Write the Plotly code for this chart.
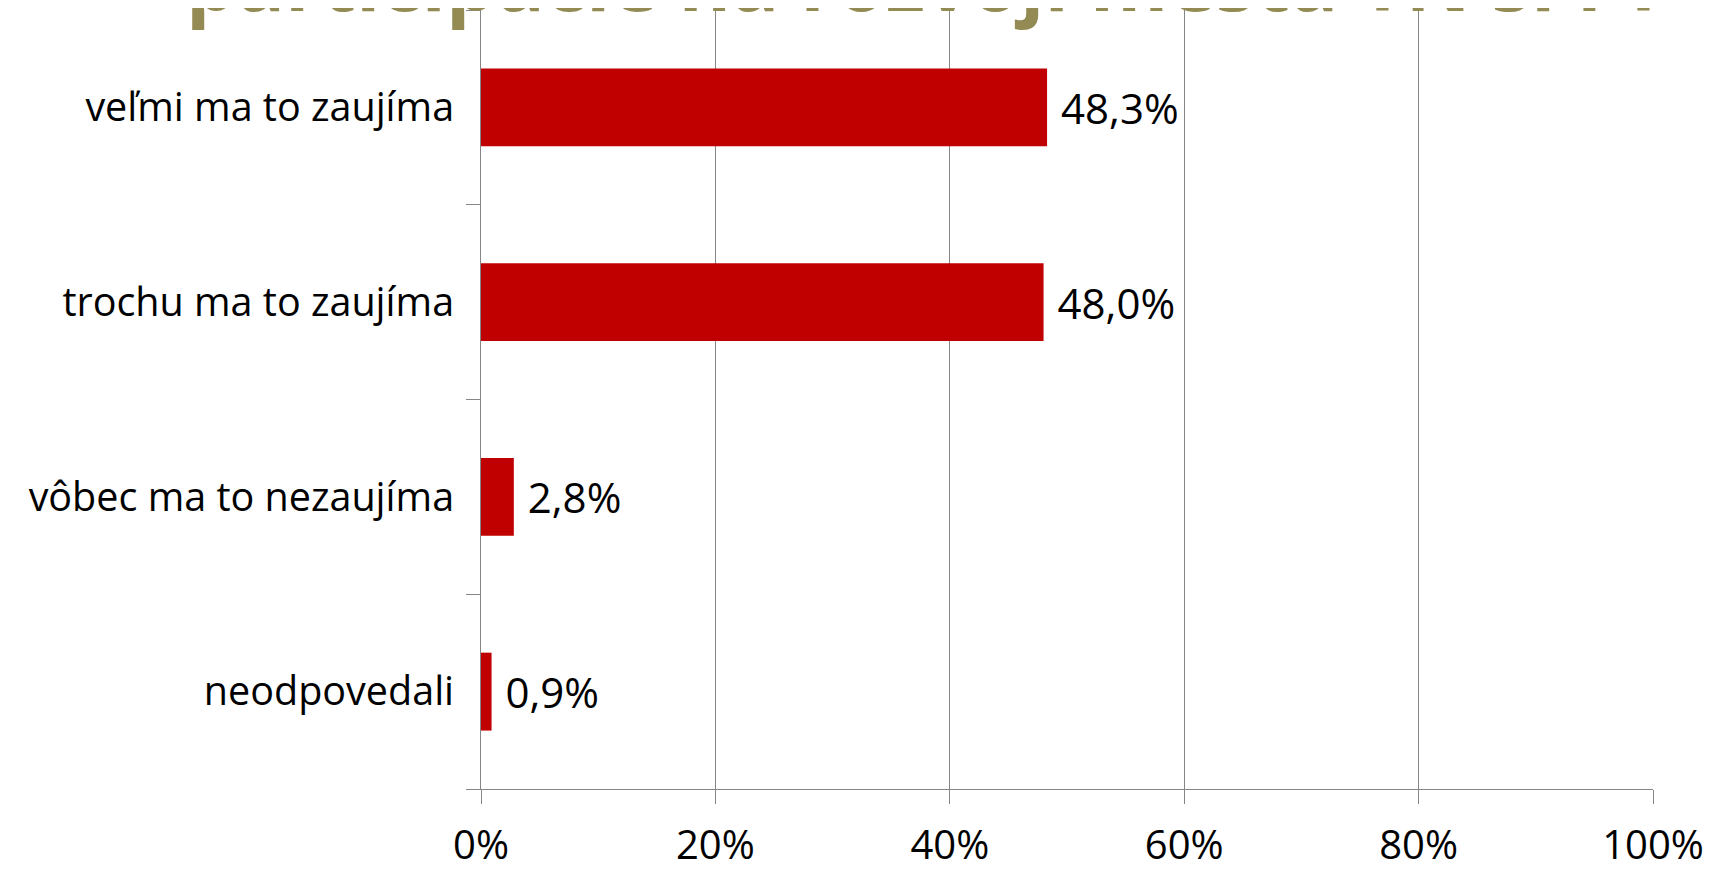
import plotly.graph_objects as go

# answers, top to bottom as in the chart
categories = ["veľmi ma to zaujíma", "trochu ma to zaujíma", "vôbec ma to nezaujíma", "neodpovedali"]
shares = [0.483, 0.480, 0.028, 0.009]
x_ticks = [0, 0.2, 0.4, 0.6, 0.8, 1.0]
title_text = "participácie na rozvoji mesta TN si FT"

fig = go.Figure()
fig.add_trace(go.Bar(
    y=categories,
    x=shares,
    orientation="h",
    width=0.4,
    marker=dict(color="#C00000", line=dict(width=0)),
    texttemplate=" %{x:.1%}",
    textposition="outside",
    textfont=dict(color="black", size=42, family="Open Sans"),
    cliponaxis=False,
))

# title is mostly cut off at the top edge in the original
fig.add_annotation(
    text="<b>" + title_text + "</b>",
    xref="paper", yref="paper",
    x=-0.253, y=0.967,
    xanchor="left", yanchor="bottom",
    showarrow=False,
    font=dict(color="#948A54", size=80, family="Open Sans"),
)

fig.update_layout(
    width=1703, height=862,
    margin=dict(l=473, r=58, t=2, b=81, autoexpand=False),
    plot_bgcolor="white",
    paper_bgcolor="white",
    separators=", ",
    showlegend=False,
    font=dict(family="Open Sans", size=39, color="black"),
    xaxis=dict(
        range=[0, 1],
        tickvals=x_ticks,
        tickformat=".0%",
        showgrid=True, gridcolor="#868686", gridwidth=1,
        showline=True, linecolor="#868686", linewidth=1,
        ticks="outside", ticklen=14, tickcolor="#868686",
        ticklabelstandoff=7,
        automargin=False,
        zeroline=False,
        tickfont=dict(size=40),
    ),
    yaxis=dict(
        categoryorder="array",
        categoryarray=categories[::-1],
        showline=True, linecolor="#868686", linewidth=1,
        ticks="outside", ticklen=14, tickcolor="#868686",
        tickson="boundaries",
        ticklabelstandoff=18,
        automargin=False,
        showgrid=False,
        tickfont=dict(size=39.5),
    ),
)

fig.write_html("out.html")
